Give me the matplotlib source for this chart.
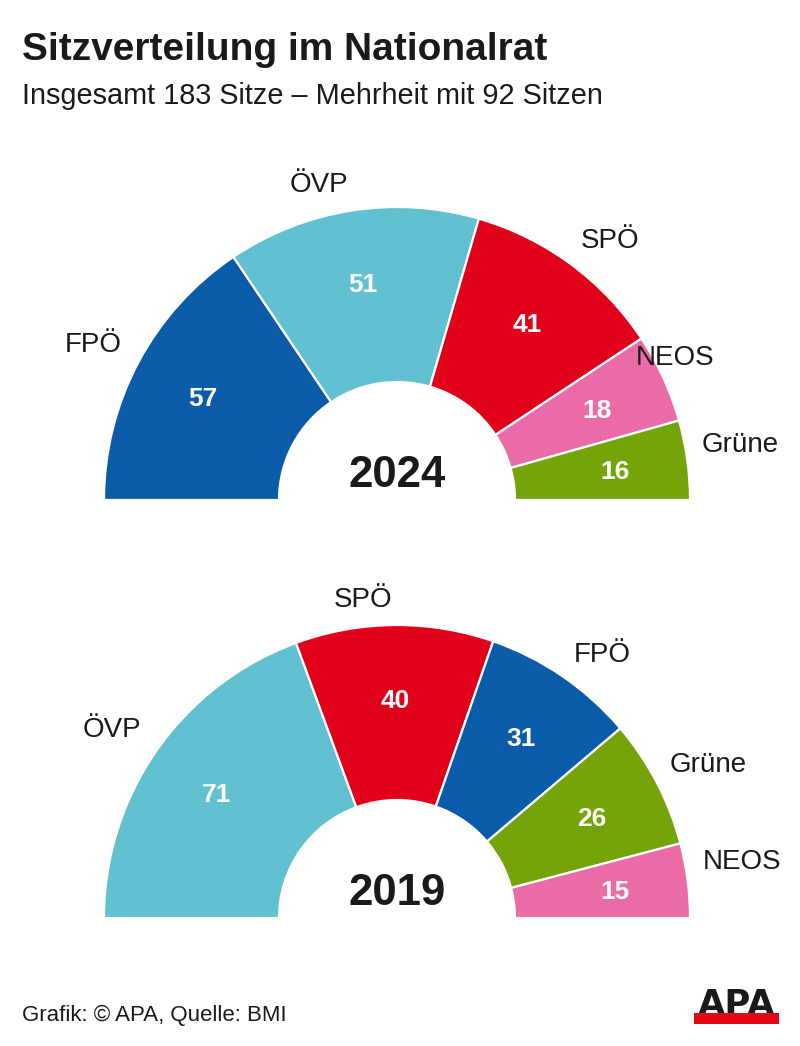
import numpy as np
import matplotlib.pyplot as plt
from matplotlib.patches import Wedge, Rectangle

plt.rcParams['font.family'] = ['Liberation Sans', 'DejaVu Sans']

# Daten
parteien_2024 = ['FPÖ', 'ÖVP', 'SPÖ', 'NEOS', 'Grüne']
sitze_2024 = [57, 51, 41, 18, 16]
parteien_2019 = ['ÖVP', 'SPÖ', 'FPÖ', 'Grüne', 'NEOS']
sitze_2019 = [71, 40, 31, 26, 15]

farben = {'FPÖ': '#0A5CA8', 'ÖVP': '#62C1D0', 'SPÖ': '#E10019',
          'NEOS': '#EA6BA6', 'Grüne': '#74A40A'}

# Figur in Pixelkoordinaten (y nach oben)
W, H = 800, 1046
fig = plt.figure(figsize=(W / 100, H / 100), dpi=100)
ax = fig.add_axes([0, 0, 1, 1])
ax.set_xlim(0, W)
ax.set_ylim(0, H)
ax.axis('off')

R_AUSSEN, R_INNEN = 293, 118
TXT = '#1a1a1a'

# manuelle Verschiebung der Parteinamen: (Winkel in Grad, Radius)
label_pos = {('2024', 'FPÖ'): (0.5, 342), ('2024', 'ÖVP'): (5, 328),
             ('2024', 'SPÖ'): (-2.7, 338), ('2024', 'NEOS'): (3, 314),
             ('2024', 'Grüne'): (1.7, 348), ('2019', 'ÖVP'): (1, 343),
             ('2019', 'SPÖ'): (5.5, 323), ('2019', 'FPÖ'): (-3.3, 336),
             ('2019', 'Grüne'): (-0.9, 348), ('2019', 'NEOS'): (2.4, 350)}


def halbkreis(cx, cy, parteien, sitze, jahr):
    total = sum(sitze)
    start = 180.0
    for p, s in zip(parteien, sitze):
        span = s / total * 180.0
        t1, t2 = start - span, start
        ax.add_patch(Wedge((cx, cy), R_AUSSEN, t1, t2, width=R_AUSSEN - R_INNEN,
                           facecolor=farben[p], edgecolor='white', linewidth=1.6))
        mid = (t1 + t2) / 2
        m = np.radians(mid)
        # Zahl im Segment
        ax.text(cx + 220 * np.cos(m), cy + 220 * np.sin(m) - 9.5, str(s),
                color='white', fontsize=19, fontweight='bold',
                ha='center', va='baseline')
        # Parteiname außen
        da, rl = label_pos[(jahr, p)]
        a = np.radians(mid + da)
        ax.text(cx + rl * np.cos(a), cy + rl * np.sin(a) - 10, p, fontsize=20,
                color=TXT, ha='center', va='baseline')
        start = t1
    ax.text(cx, cy + 13, jahr, fontsize=31.5, fontweight='bold',
            color=TXT, ha='center', va='baseline')


halbkreis(397, H - 500, parteien_2024, sitze_2024, '2024')
halbkreis(397, H - 918, parteien_2019, sitze_2019, '2019')

# Titel
ax.text(22, H - 60, 'Sitzverteilung im Nationalrat', fontsize=28,
        fontweight='bold', color=TXT, ha='left', va='baseline')
ax.text(22, H - 104, 'Insgesamt 183 Sitze – Mehrheit mit 92 Sitzen',
        fontsize=20.8, color=TXT, ha='left', va='baseline')

# Quelle
ax.text(22, H - 1021, 'Grafik: © APA, Quelle: BMI', fontsize=16,
        color=TXT, ha='left', va='baseline')

# APA Logo
ax.add_patch(Rectangle((694, H - 1024), 85, 11, facecolor='#E30613',
                       edgecolor='none', zorder=3))
ax.text(737, H - 1015, 'APA', fontsize=25.5, fontweight='bold', color=TXT,
        family='DejaVu Sans', ha='center', va='baseline', zorder=2)

fig.savefig('out.png', dpi=100)
